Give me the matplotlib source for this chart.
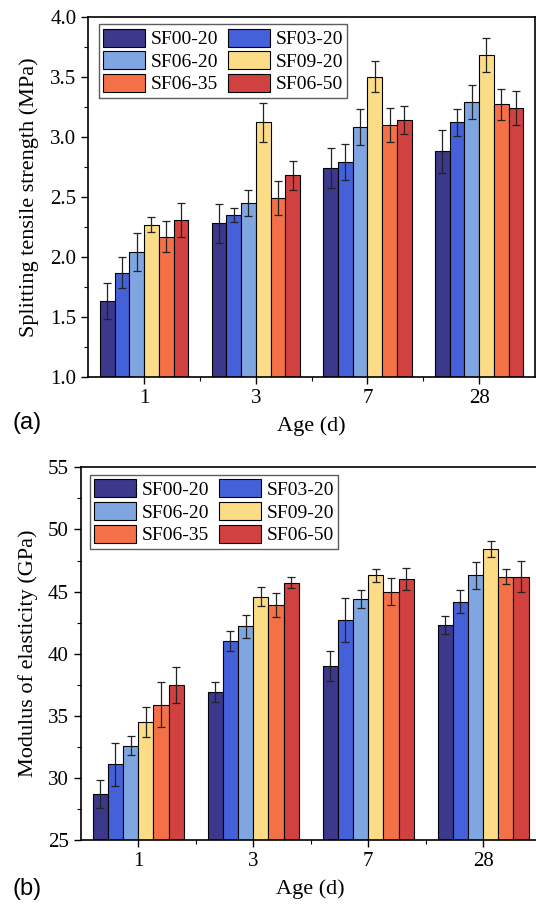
import numpy as np
import matplotlib
matplotlib.use("Agg")
import matplotlib.pyplot as plt
from matplotlib.ticker import MultipleLocator, FormatStrFormatter

ages = ["1", "3", "7", "28"]
mixes = ["SF00-20", "SF03-20", "SF06-20", "SF09-20", "SF06-35", "SF06-50"]
colors = ["#3c388c", "#4561d9", "#7fa6e0", "#fcdc87", "#f47148", "#d04140"]

# splitting tensile strength (MPa), rows = mixes, cols = ages
sts = [
    [1.63, 2.28, 2.74, 2.88],
    [1.87, 2.35, 2.79, 3.12],
    [2.04, 2.45, 3.08, 3.29],
    [2.27, 3.12, 3.50, 3.68],
    [2.17, 2.49, 3.10, 3.27],
    [2.31, 2.68, 3.14, 3.24],
]
sts_err = [
    [0.15, 0.16, 0.17, 0.18],
    [0.13, 0.06, 0.15, 0.11],
    [0.16, 0.11, 0.15, 0.14],
    [0.06, 0.16, 0.13, 0.14],
    [0.13, 0.14, 0.14, 0.13],
    [0.14, 0.12, 0.12, 0.14],
]

# modulus of elasticity (GPa)
moe = [
    [28.7, 36.9, 39.0, 42.3],
    [31.1, 41.0, 42.7, 44.2],
    [32.6, 42.2, 44.4, 46.3],
    [34.5, 44.6, 46.3, 48.4],
    [35.9, 43.9, 45.0, 46.2],
    [37.5, 45.7, 46.0, 46.2],
]
moe_err = [
    [1.1, 0.8, 1.2, 0.75],
    [1.75, 0.8, 1.75, 0.9],
    [0.75, 0.9, 0.75, 1.1],
    [1.2, 0.8, 0.5, 0.65],
    [1.8, 0.95, 1.1, 0.6],
    [1.45, 0.45, 0.9, 1.25],
]

plt.rcParams["font.family"] = "Liberation Serif"

fig = plt.figure(figsize=(5.36, 9.05), dpi=100)
ax1 = fig.add_axes([0.1647, 0.5834, 0.8333, 0.3981])
ax2 = fig.add_axes([0.1506, 0.0718, 0.858, 0.4118])


def draw(ax, vals, errs, ylim, major, minor, ylabel, leg_anchor, ylabelpad):
    x = np.arange(len(ages))
    w = 0.132
    handles = []
    for i, m in enumerate(mixes):
        pos = x + (i - 2.5) * w
        b = ax.bar(pos, vals[i], w, color=colors[i], edgecolor="black",
                   linewidth=0.8, label=m, zorder=2)
        ax.errorbar(pos, vals[i], yerr=errs[i], fmt="none", ecolor="#222222",
                    elinewidth=0.9, capsize=3, capthick=0.9, zorder=3)
        handles.append(b)
    ax.set_xlim(-0.5, 3.5)
    ax.set_ylim(*ylim)
    ax.set_xticks(x)
    ax.set_xticklabels(ages)
    ax.set_xticks(x[:-1] + 0.5, minor=True)
    ax.yaxis.set_major_locator(MultipleLocator(major))
    ax.yaxis.set_minor_locator(MultipleLocator(minor))
    ax.tick_params(axis="both", which="major", direction="out", length=5,
                   width=1.0, labelsize=15, right=False, top=False)
    ax.tick_params(axis="both", which="minor", direction="out", length=3,
                   width=0.8, right=False, top=False)
    for s in ax.spines.values():
        s.set_linewidth(1.2)
    ax.set_xlabel("Age (d)", fontsize=16, labelpad=6)
    ax.set_ylabel(ylabel, fontsize=16, labelpad=ylabelpad)
    # legend fills row-wise in the original
    order = [0, 2, 4, 1, 3, 5]
    leg = ax.legend([handles[k] for k in order], [mixes[k] for k in order],
                    ncol=2, loc="upper left", bbox_to_anchor=leg_anchor,
                    fontsize=14, frameon=True, fancybox=False,
                    handlelength=2.15, handleheight=1.05, labelspacing=0.15,
                    columnspacing=0.5, handletextpad=0.3, borderpad=0.22,
                    borderaxespad=0.0)
    leg.get_frame().set_edgecolor("#333333")
    leg.get_frame().set_linewidth(1.0)


draw(ax1, sts, sts_err, (1.0, 4.0), 0.5, 0.25,
     "Splitting tensile strength (MPa)", (0.0235, 0.979), 8)
ax1.yaxis.set_major_formatter(FormatStrFormatter("%.1f"))
draw(ax2, moe, moe_err, (25, 55), 5, 2.5,
     "Modulus of elasticity (GPa)", (0.02, 0.979), 7)

fig.text(0.024, 1 - 423 / 905, "(a)", fontsize=17, family="Liberation Sans",
         va="center", ha="left")
fig.text(0.024, 1 - 889 / 905, "(b)", fontsize=17, family="Liberation Sans",
         va="center", ha="left")

fig.savefig("out.png", dpi=100)
